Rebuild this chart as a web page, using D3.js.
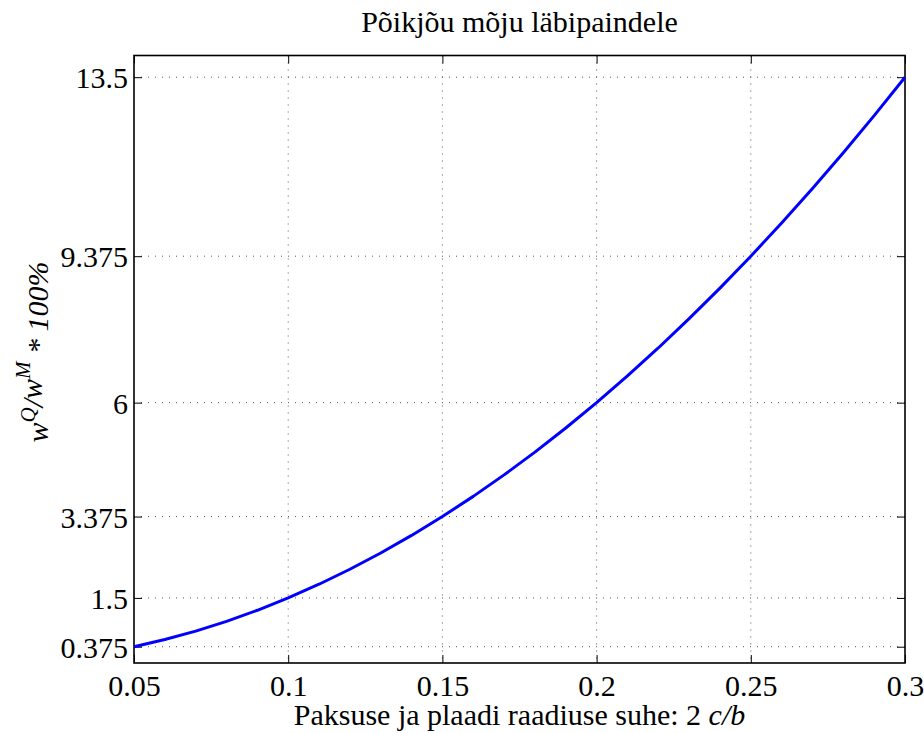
<!DOCTYPE html>
<html>
<head>
<meta charset="utf-8">
<script src="https://cdn.jsdelivr.net/npm/d3@7"></script>
<style>
  html, body { margin: 0; padding: 0; background: #fff; }
  svg { display: block; }
  text { font-family: "Liberation Serif", "Times New Roman", serif; fill: #000; }
</style>
</head>
<body>
<svg id="chart" width="924" height="733"></svg>
<script>
// Thickness ratio 2c/b and shear share of deflection (%)
const ratio = [0.05, 0.06, 0.07, 0.08, 0.09, 0.10, 0.11, 0.12, 0.13, 0.14, 0.15, 0.16, 0.17,
               0.18, 0.19, 0.20, 0.21, 0.22, 0.23, 0.24, 0.25, 0.26, 0.27, 0.28, 0.29, 0.30];
const share = [0.375, 0.54, 0.735, 0.96, 1.215, 1.5, 1.815, 2.16, 2.535, 2.94, 3.375, 3.84, 4.335,
               4.86, 5.415, 6.0, 6.615, 7.26, 7.935, 8.64, 9.375, 10.14, 10.935, 11.76, 12.615, 13.5];
const xTicks = [0.05, 0.1, 0.15, 0.2, 0.25, 0.3];
const xTickLabels = ["0.05", "0.1", "0.15", "0.2", "0.25", "0.3"];
const yTicks = [0.375, 1.5, 3.375, 6, 9.375, 13.5];
const yTickLabels = ["0.375", "1.5", "3.375", "6", "9.375", "13.5"];
const titleText = "Põikjõu mõju läbipaindele";

const svg = d3.select("#chart");
const pLeft = 134, pRight = 905, pTop = 55.5, pBottom = 663;

const x = d3.scaleLinear().domain([0.05, 0.3]).range([pLeft, pRight]);
const y = d3.scaleLinear().domain([0, 14]).range([pBottom, pTop]);

// dotted grid
const grid = svg.append("g").attr("stroke", "#555").attr("stroke-width", 1)
  .attr("stroke-dasharray", "1,6");
grid.selectAll("line.gx").data(xTicks.slice(1, -1)).join("line")
  .attr("x1", d => x(d)).attr("x2", d => x(d)).attr("y1", pTop).attr("y2", pBottom);
grid.selectAll("line.gy").data(yTicks).join("line")
  .attr("x1", pLeft).attr("x2", pRight).attr("y1", d => y(d)).attr("y2", d => y(d));

// axes with inward ticks on all four sides
const tickLen = 8;
const axB = svg.append("g").attr("transform", `translate(0,${pBottom})`)
  .call(d3.axisBottom(x).tickValues(xTicks).tickSize(-tickLen).tickPadding(12)
    .tickFormat((d, i) => xTickLabels[i]));
const axT = svg.append("g").attr("transform", `translate(0,${pTop})`)
  .call(d3.axisTop(x).tickValues(xTicks).tickSize(-tickLen).tickFormat(""));
const axL = svg.append("g").attr("transform", `translate(${pLeft},0)`)
  .call(d3.axisLeft(y).tickValues(yTicks).tickSize(-tickLen).tickPadding(6)
    .tickFormat((d, i) => yTickLabels[i]));
const axR = svg.append("g").attr("transform", `translate(${pRight},0)`)
  .call(d3.axisRight(y).tickValues(yTicks).tickSize(-tickLen).tickFormat(""));

[axB, axT, axL, axR].forEach(a => {
  a.select(".domain").remove();
  a.selectAll(".tick line").attr("stroke", "#000").attr("stroke-width", 1);
  a.selectAll(".tick text").attr("font-family", "Liberation Serif").attr("font-size", 30).attr("fill", "#000");
});
axB.selectAll(".tick text").attr("dy", "0.71em");
axL.selectAll(".tick text").attr("dy", "0.35em");

// box
svg.append("rect").attr("x", pLeft).attr("y", pTop)
  .attr("width", pRight - pLeft).attr("height", pBottom - pTop)
  .attr("fill", "none").attr("stroke", "#000").attr("stroke-width", 1.6);

// curve
const pts = ratio.map((r, i) => [r, share[i]]);
svg.append("path").datum(pts)
  .attr("fill", "none").attr("stroke", "#0000ff").attr("stroke-width", 3)
  .attr("stroke-linejoin", "round")
  .attr("d", d3.line().x(d => x(d[0])).y(d => y(d[1])));

// title
svg.append("text").attr("x", (pLeft + pRight) / 2).attr("y", 32)
  .attr("text-anchor", "middle").attr("font-size", 30).text(titleText);

// x label
const xl = svg.append("text").attr("x", (pLeft + pRight) / 2).attr("y", 725)
  .attr("text-anchor", "middle").attr("font-size", 30);
xl.append("tspan").text("Paksuse ja plaadi raadiuse suhe: 2 ");
xl.append("tspan").attr("font-style", "italic").text("c/b");

// y label
const yl = svg.append("text").attr("transform", "translate(48,352) rotate(-90)")
  .attr("text-anchor", "middle").attr("font-size", 30).attr("font-style", "italic");
yl.append("tspan").text("w");
yl.append("tspan").attr("font-size", 21).attr("dy", -13).text("Q");
yl.append("tspan").attr("font-size", 30).attr("dy", 8).text("/");
yl.append("tspan").attr("font-size", 30).attr("dy", -1).text("w");
yl.append("tspan").attr("font-size", 21).attr("dy", -12).text("M");
yl.append("tspan").attr("font-size", 30).attr("dy", 18).text(" * 100%");
</script>
</body>
</html>
